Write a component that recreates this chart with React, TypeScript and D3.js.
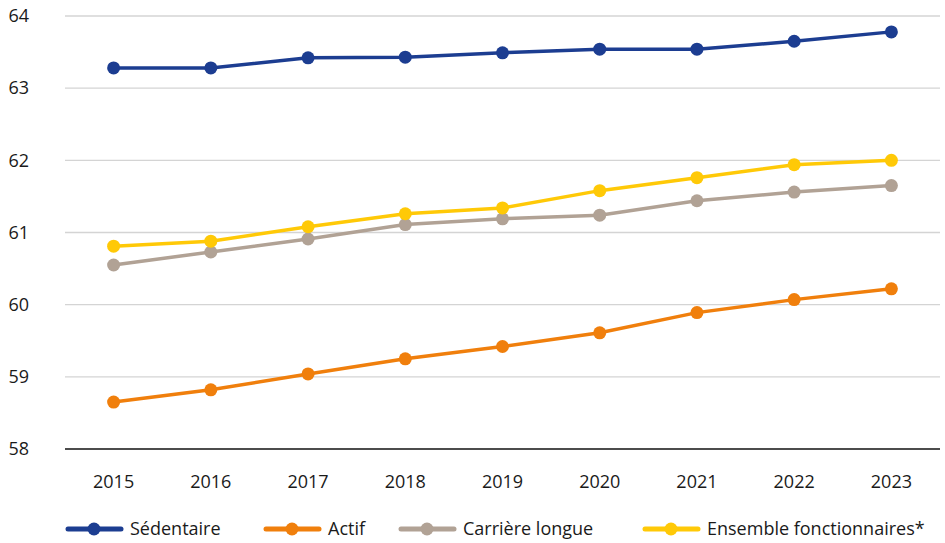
import { useEffect, useRef } from "react"
import * as d3 from "d3"

const years = ["2015", "2016", "2017", "2018", "2019", "2020", "2021", "2022", "2023"]
const sedentaire = [63.28, 63.28, 63.42, 63.43, 63.49, 63.54, 63.54, 63.65, 63.78]
const actif = [58.65, 58.82, 59.04, 59.25, 59.42, 59.61, 59.89, 60.07, 60.22]
const carriereLongue = [60.55, 60.73, 60.91, 61.11, 61.19, 61.24, 61.44, 61.56, 61.65]
const ensemble = [60.81, 60.88, 61.08, 61.26, 61.34, 61.58, 61.76, 61.94, 62.0]
const yTicks = [58, 59, 60, 61, 62, 63, 64]

const seriesNames = ["Sédentaire", "Actif", "Carrière longue", "Ensemble fonctionnaires*"]
const seriesColors = ["#1c3d91", "#f07f0c", "#b1a295", "#ffc907"]
// position horizontale de chaque entrée de légende
const legendX = [66, 264, 399, 643]

export default function App() {
  const svgRef = useRef(null)

  useEffect(() => {
    if (!svgRef.current) return
    const svg = d3.select(svgRef.current)
    svg.selectAll("*").remove()

    const width = 945
    const height = 543
    const font = "'Open Sans', 'Noto Sans', sans-serif"

    const x = d3.scaleBand().domain(years).range([65, 940])
    const y = d3.scaleLinear().domain([58, 64]).range([449, 16])

    // grille
    svg
      .append("g")
      .selectAll("line")
      .data(yTicks.filter((t) => t !== 58))
      .enter()
      .append("line")
      .attr("x1", 65)
      .attr("x2", 940)
      .attr("y1", (d) => y(d))
      .attr("y2", (d) => y(d))
      .attr("stroke", "#d4d4d4")
      .attr("stroke-width", 1.3)

    // axe x
    svg
      .append("line")
      .attr("x1", 65)
      .attr("x2", 940)
      .attr("y1", y(58))
      .attr("y2", y(58))
      .attr("stroke", "#111")
      .attr("stroke-width", 1.3)

    svg
      .append("g")
      .selectAll("text")
      .data(yTicks)
      .enter()
      .append("text")
      .attr("x", 29)
      .attr("y", (d) => y(d))
      .attr("dy", "0.35em")
      .attr("text-anchor", "end")
      .attr("font-family", font)
      .attr("font-size", 18)
      .attr("fill", "#1a1a1a")
      .text((d) => d)

    svg
      .append("g")
      .selectAll("text")
      .data(years)
      .enter()
      .append("text")
      .attr("x", (d) => x(d) + x.bandwidth() / 2)
      .attr("y", 482)
      .attr("dy", "0.35em")
      .attr("text-anchor", "middle")
      .attr("font-family", font)
      .attr("font-size", 18)
      .attr("fill", "#1a1a1a")
      .text((d) => d)

    const allSeries = [sedentaire, actif, carriereLongue, ensemble]
    const line = d3
      .line<number>()
      .x((_, i) => x(years[i]) + x.bandwidth() / 2)
      .y((d) => y(d))

    // dessiner dans l'ordre : carrière, ensemble, actif, sédentaire
    const order = [2, 3, 1, 0]
    order.forEach((k) => {
      const g = svg.append("g")
      g.append("path")
        .datum(allSeries[k])
        .attr("d", line)
        .attr("fill", "none")
        .attr("stroke", seriesColors[k])
        .attr("stroke-width", 3.5)
      g.selectAll("circle")
        .data(allSeries[k])
        .enter()
        .append("circle")
        .attr("cx", (_, i) => x(years[i]) + x.bandwidth() / 2)
        .attr("cy", (d) => y(d))
        .attr("r", 6.5)
        .attr("fill", seriesColors[k])
    })

    // légende
    const legend = svg.append("g").attr("transform", "translate(0,529)")
    seriesNames.forEach((name, k) => {
      const item = legend.append("g").attr("transform", `translate(${legendX[k]},0)`)
      item
        .append("line")
        .attr("x1", 2)
        .attr("x2", 55)
        .attr("y1", 0)
        .attr("y2", 0)
        .attr("stroke", seriesColors[k])
        .attr("stroke-width", 5)
        .attr("stroke-linecap", "round")
      item.append("circle").attr("cx", 28).attr("cy", 0).attr("r", 6.5).attr("fill", seriesColors[k])
      item
        .append("text")
        .attr("x", 64)
        .attr("dy", "0.35em")
        .attr("font-family", font)
        .attr("font-size", 18)
        .attr("fill", "#1a1a1a")
        .text(name)
    })

    svg.attr("width", width).attr("height", height).attr("viewBox", [0, 0, width, height])
  }, [])

  return (
    <div style={{ position: "absolute", left: 0, top: 0 }}>
      <svg ref={svgRef} style={{ display: "block" }}></svg>
    </div>
  )
}
